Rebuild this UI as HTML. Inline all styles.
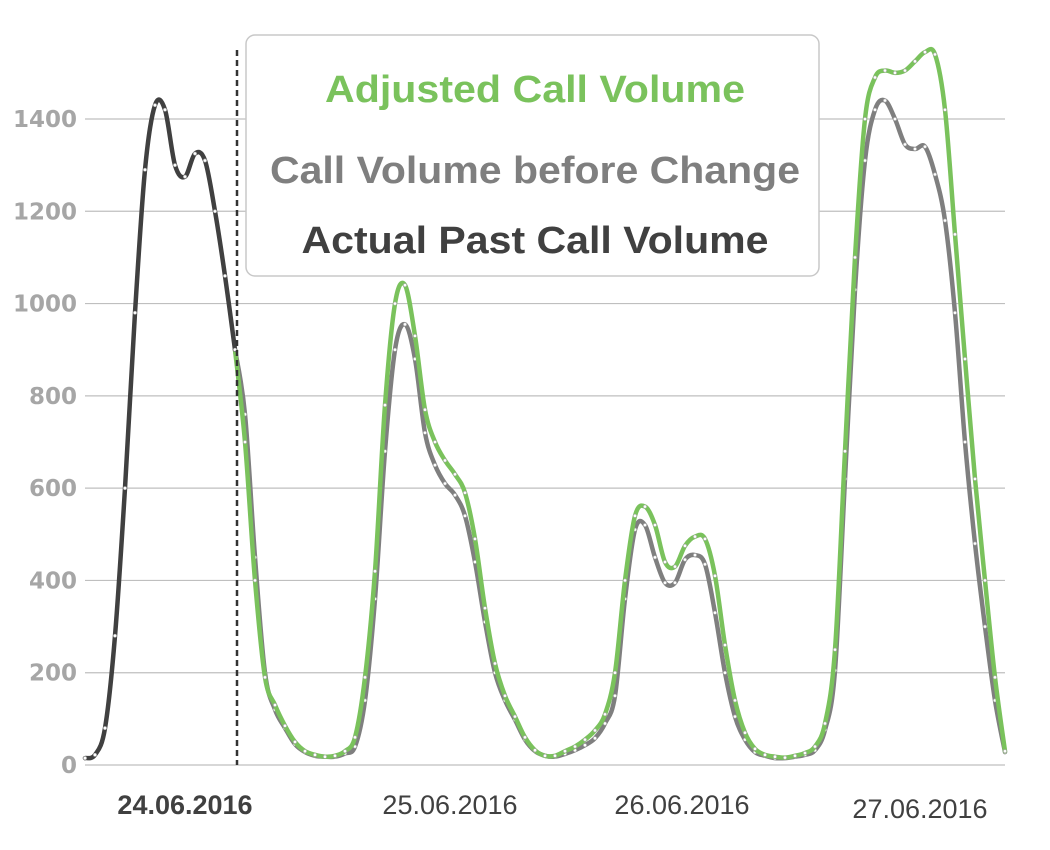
<!DOCTYPE html>
<html><head><meta charset="utf-8"><style>
html,body{margin:0;padding:0;background:#fff;}
svg{display:block;}
</style></head><body>
<svg id="chart" width="1050" height="850" viewBox="0 0 1050 850" xmlns="http://www.w3.org/2000/svg">
<g id="grid"></g>
<g id="ylabels"></g>
<g id="xlabels"></g>
<g id="series"></g>
<line x1="237" y1="50" x2="237" y2="765" stroke="#333" stroke-width="2.5" stroke-dasharray="6,4"/>
<g>
<rect x="246" y="35" width="573" height="241" rx="9" fill="#fff" stroke="#c8c8c8" stroke-width="1.5"/>
<text x="535" y="102" text-anchor="middle" font-family="Liberation Sans, sans-serif" font-weight="bold" font-size="38" fill="#7ac25c" textLength="420" lengthAdjust="spacingAndGlyphs">Adjusted Call Volume</text>
<text x="535" y="183" text-anchor="middle" font-family="Liberation Sans, sans-serif" font-weight="bold" font-size="38" fill="#7f7f7f" textLength="530" lengthAdjust="spacingAndGlyphs">Call Volume before Change</text>
<text x="535" y="253" text-anchor="middle" font-family="Liberation Sans, sans-serif" font-weight="bold" font-size="38" fill="#404040" textLength="467" lengthAdjust="spacingAndGlyphs">Actual Past Call Volume</text>
</g>
</svg>
<script>
const yTicks = [0,200,400,600,800,1000,1200,1400];
const dateLabels = ["24.06.2016","25.06.2016","26.06.2016","27.06.2016"];
const dateLabelIdx = [10, 36.5, 59.7, 83.5];
const actualPast = [15,22,80,280,600,980,1290,1430,1420,1300,1275,1325,1310,1200,1060,900];
const beforeChange = [900,760,450,200,120,80,45,28,20,18,18,25,40,140,360,680,900,955,880,720,650,610,585,540,440,310,200,140,98,55,30,20,18,24,32,43,58,90,150,360,510,520,450,395,395,445,455,435,330,200,105,55,28,20,15,15,18,22,32,76,205,620,1030,1310,1420,1440,1400,1345,1335,1340,1280,1180,980,700,480,300,140,28];
const adjusted = [900,700,400,190,130,85,50,30,22,18,20,30,60,190,420,780,1000,1040,930,770,700,660,630,590,490,340,220,150,105,60,32,20,20,30,40,55,75,110,200,400,540,560,520,440,430,475,495,490,410,260,140,70,35,22,18,16,20,26,40,90,250,680,1100,1400,1490,1505,1500,1505,1525,1545,1540,1420,1150,880,620,400,190,30];
const seriesStart = 15;

const NS="http://www.w3.org/2000/svg";
const xPos = i => 85 + i*10;
const yPos = v => 765 - v*(646/1400);
function mk(tag, attrs, parent){const e=document.createElementNS(NS,tag);for(const k in attrs)e.setAttribute(k,attrs[k]);parent.appendChild(e);return e;}
const grid=document.getElementById('grid'), yl=document.getElementById('ylabels'), xl=document.getElementById('xlabels'), ser=document.getElementById('series');
yTicks.forEach(t=>{
  const l=mk('line',{x1:85,x2:1005,y1:yPos(t),y2:yPos(t),stroke:'#bfbfbf','stroke-width':1.2},grid);
  
  
  const tx=mk('text',{x:77,y:yPos(t)+8,'text-anchor':'end','font-family':'DejaVu Sans, sans-serif','font-weight':'bold','font-size':23,fill:'#a6a6a6'},yl);
  tx.textContent=t;
  
  
});
dateLabels.forEach((d,k)=>{
  const tx=mk('text',{x:xPos(dateLabelIdx[k]),y:k==3?818:814,'text-anchor':'middle','font-family':'Liberation Sans, sans-serif','font-size':27,fill:'#404040','font-weight':k==0?'bold':'normal'},xl);
  tx.textContent=d;
  
  
});
function smooth(pts){
  let d=`M${pts[0][0]},${pts[0][1]}`;
  for(let i=0;i<pts.length-1;i++){
    const p0=pts[i-1]||pts[i],p1=pts[i],p2=pts[i+1],p3=pts[i+2]||p2;
    const c1=[p1[0]+(p2[0]-p0[0])/6,p1[1]+(p2[1]-p0[1])/6];
    const c2=[p2[0]-(p3[0]-p1[0])/6,p2[1]-(p3[1]-p1[1])/6];
    d+=` C${c1[0]},${c1[1]} ${c2[0]},${c2[1]} ${p2[0]},${p2[1]}`;
  }
  return d;
}
function drawSeries(vals, start, color, name){
  const pts=vals.map((v,i)=>[xPos(start+i),yPos(v)]);
  const g=mk('g',{},ser);
  
  
  const p=mk('path',{d:smooth(pts),fill:'none',stroke:color,'stroke-width':4.5,'stroke-linejoin':'round','stroke-linecap':'round'},g);
  
  
  pts.forEach(q=>{
    const c=mk('circle',{cx:q[0],cy:q[1],r:1.6,fill:'#fff',stroke:'#aaa','stroke-width':0.6},g);
    
    
  });
}
drawSeries(beforeChange, seriesStart, '#7f7f7f', 'before-change-series');
drawSeries(adjusted, seriesStart, '#7ac25c', 'adjusted-series');
drawSeries(actualPast, 0, '#404040', 'actual-past-series');
</script>
</body></html>
